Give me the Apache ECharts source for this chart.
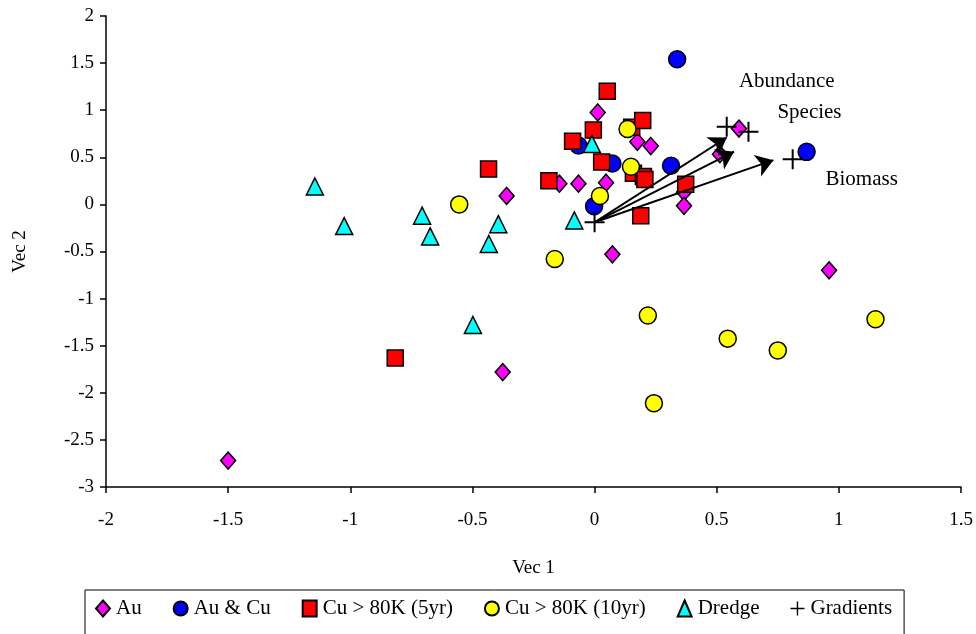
<!DOCTYPE html>
<html>
<head>
<meta charset="utf-8">
<script src="https://cdn.jsdelivr.net/npm/echarts@6/dist/echarts.min.js"></script>
<style>
html,body{margin:0;padding:0;background:#fff;}
#chart{width:976px;height:634px;}
</style>
</head>
<body>
<div id="chart"></div>
<script>
// ---- data ----
var seriesNames = ['Au', 'Au & Cu', 'Cu > 80K (5yr)', 'Cu > 80K (10yr)', 'Dredge', 'Gradients'];

var au = [
  [-1.50, -2.72], [-0.376, -1.78], [-0.36, 0.09], [0.073, -0.53], [0.96, -0.70],
  [0.013, 0.976], [0.047, 0.23], [-0.144, 0.22], [-0.066, 0.22], [0.175, 0.665],
  [0.23, 0.62], [0.591, 0.805], [0.513, 0.533], [0.366, 0.13], [0.366, -0.015]
];
var auCu = [
  [0.338, 1.54], [-0.066, 0.625], [0.073, 0.435], [0.313, 0.41], [-0.002, -0.02], [0.868, 0.558]
];
var cu5 = [
  [0.052, 1.20], [-0.005, 0.79], [-0.09, 0.67], [0.152, 0.82], [0.197, 0.89],
  [0.029, 0.45], [0.159, 0.33], [0.20, 0.295], [0.206, 0.265], [-0.187, 0.25],
  [0.189, -0.12], [0.373, 0.215], [-0.434, 0.375], [-0.816, -1.63]
];
var cu10 = [
  [-0.554, 0.0], [-0.163, -0.58], [0.022, 0.09], [0.135, 0.80], [0.149, 0.40],
  [0.218, -1.18], [0.545, -1.425], [0.75, -1.55], [1.15, -1.22], [0.243, -2.11]
];
var dredge = [
  [-1.145, 0.19], [-1.025, -0.23], [-0.706, -0.12], [-0.673, -0.34], [-0.394, -0.21],
  [-0.433, -0.42], [-0.083, -0.17], [-0.498, -1.28], [-0.011, 0.64]
];
var gradients = [[0, -0.19], [0.541, 0.823], [0.63, 0.77], [0.811, 0.48]];
var gradientNames = ['', 'Abundance', 'Species', 'Biomass'];
var arrowOrigin = [0, -0.19];
var arrowTips = [[0.541, 0.71], [0.571, 0.56], [0.732, 0.47]];

var xTicks = { min: -2, max: 1.5, step: 0.5 };
var yTicks = { min: -3, max: 2, step: 0.5 };

// ---- chart ----
var FONT = '"Liberation Serif", "Times New Roman", serif';
var plusPath = 'path://M4.5,0H5.5V4.5H10V5.5H5.5V10H4.5V5.5H0V4.5H4.5Z';
var border = { borderColor: '#000', borderWidth: 1.5 };

function scatter(name, data, symbol, size, color) {
  return {
    name: name, type: 'scatter', data: data, symbol: symbol, symbolSize: size,
    itemStyle: Object.assign({ color: color, opacity: 1 }, border),
    emphasis: { disabled: true }, animation: false
  };
}

var labelOffsets = [[0, 0], [60, -45], [61, -19], [69, 20]];
var gradData = gradients.map(function (p, i) {
  return {
    value: p,
    label: {
      show: gradientNames[i] !== '',
      formatter: gradientNames[i],
      position: 'inside',
      offset: labelOffsets[i],
      fontFamily: FONT, fontSize: 21, color: '#000',
      textBorderWidth: 0, opacity: 1
    }
  };
});

var chart = echarts.init(document.getElementById('chart'), null, { renderer: 'canvas' });
chart.setOption({
  animation: false,
  backgroundColor: '#fff',
  grid: { left: 106, right: 15, top: 16, bottom: 147, containLabel: false },
  xAxis: {
    type: 'value', min: xTicks.min, max: xTicks.max, interval: xTicks.step,
    name: 'Vec 1', nameLocation: 'middle', nameGap: 72,
    nameTextStyle: { fontFamily: FONT, fontSize: 19, color: '#000' },
    axisLine: { onZero: false, lineStyle: { color: '#000', width: 1.5 } },
    axisTick: { show: true, length: 6, lineStyle: { color: '#000', width: 1.5 } },
    axisLabel: { margin: 24, fontFamily: FONT, fontSize: 19, color: '#000' },
    splitLine: { show: false }
  },
  yAxis: {
    type: 'value', min: yTicks.min, max: yTicks.max, interval: yTicks.step,
    name: 'Vec 2', nameLocation: 'middle', nameGap: 76, nameRotate: 90,
    nameTextStyle: { fontFamily: FONT, fontSize: 19, color: '#000' },
    axisLine: { onZero: false, lineStyle: { color: '#000', width: 1.5 } },
    axisTick: { show: true, length: 6, lineStyle: { color: '#000', width: 1.5 } },
    axisLabel: { margin: 12, fontFamily: FONT, fontSize: 19, color: '#000' },
    splitLine: { show: false }
  },
  legend: {
    data: [
      { name: seriesNames[0], icon: 'diamond' },
      { name: seriesNames[1], icon: 'circle' },
      { name: seriesNames[2], icon: 'rect' },
      { name: seriesNames[3], icon: 'circle' },
      { name: seriesNames[4], icon: 'triangle' },
      { name: seriesNames[5], icon: plusPath }
    ],
    left: 85, top: 590,
    itemWidth: 14, itemHeight: 16, itemGap: 31,
    padding: [8, 12, 20, 10],
    borderColor: '#000', borderWidth: 1,
    textStyle: { fontFamily: FONT, fontSize: 21, color: '#000', padding: [0, 0, 0, 1] },
    selectedMode: false
  },
  series: [
    scatter(seriesNames[0], au, 'diamond', [15, 17], '#FF00FF'),
    scatter(seriesNames[1], auCu, 'circle', 17, '#0000FF'),
    scatter(seriesNames[2], cu5, 'rect', 16, '#FF0000'),
    scatter(seriesNames[3], cu10, 'circle', 17, '#FFFF00'),
    scatter(seriesNames[4], dredge, 'triangle', 17, '#00FFFF'),
    {
      name: seriesNames[5], type: 'scatter', data: gradData, symbol: plusPath, symbolSize: 20,
      itemStyle: { color: '#000', borderWidth: 0, opacity: 1 }, emphasis: { disabled: true }, z: 5
    },
    {
      name: 'arrows', type: 'lines', coordinateSystem: 'cartesian2d', z: 4,
      data: arrowTips.map(function (t) { return { coords: [arrowOrigin, t] }; }),
      symbol: ['none', 'arrow'], symbolSize: [13, 17],
      lineStyle: { color: '#000', width: 2, opacity: 1, curveness: 0 },
      effect: { show: false }, silent: true
    }
  ]
});
</script>
</body>
</html>
